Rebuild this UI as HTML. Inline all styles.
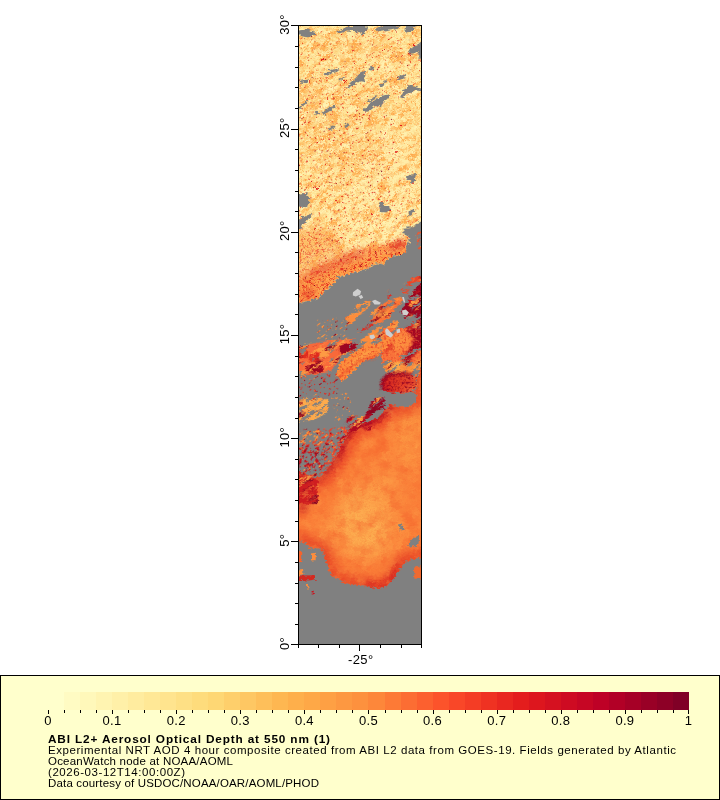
<!DOCTYPE html>
<html><head><meta charset="utf-8"><title>ABI L2+ Aerosol Optical Depth at 550 nm</title>
<style>html,body{margin:0;padding:0;background:#fff;}body{width:720px;height:800px;overflow:hidden;font-family:"Liberation Sans",sans-serif;}svg{display:block;position:absolute;left:0;top:0;}text{font-family:"Liberation Sans",sans-serif;fill:#000;}</style>
</head><body>
<svg width="720" height="800" viewBox="0 0 720 800">
<rect x="0" y="0" width="720" height="800" fill="#ffffff"/>
<defs><filter id="idt" filterUnits="userSpaceOnUse" x="0" y="0" width="720" height="800"><feOffset dx="0" dy="0"/></filter></defs>
<defs>
<clipPath id="mapclip"><rect x="299" y="26" width="122" height="618"/></clipPath>
<clipPath id="clipA"><polygon points="285.0,12.0 435.0,12.0 435.0,218.0 423.0,220.0 421.6,221.0 412.0,227.0 403.6,227.6 403.0,234.0 408.0,236.4 409.6,241.6 405.6,246.0 406.0,251.6 400.0,255.6 392.0,256.0 386.0,260.0 383.6,264.0 376.0,263.0 368.0,268.0 364.0,270.0 356.0,272.0 348.0,274.0 338.0,276.4 333.6,283.0 324.0,292.0 318.0,298.0 312.0,299.2 298.0,303.2 285.0,304.0"/></clipPath>
<clipPath id="clipO"><polygon points="280.0,468.0 298.0,470.0 308.0,476.0 314.0,478.4 321.0,476.0 328.0,468.0 334.0,460.0 338.0,454.0 342.0,444.4 346.0,438.0 350.0,428.4 358.0,426.0 368.0,422.0 378.0,418.0 384.0,412.0 390.0,404.4 397.0,406.4 408.0,406.4 416.0,402.4 416.0,394.4 409.0,392.4 416.0,390.0 418.0,374.0 423.0,366.0 440.0,362.0 440.0,554.0 423.0,556.4 416.0,558.4 404.0,562.0 399.2,570.0 392.4,580.0 384.4,588.0 374.0,588.0 364.0,585.2 348.0,584.0 340.0,580.0 332.0,576.0 328.0,568.0 324.4,556.4 322.0,548.4 310.0,548.0 306.0,543.2 298.0,541.0 280.0,540.0"/></clipPath>
<filter id="rag" filterUnits="userSpaceOnUse" x="-300" y="-300" width="1400" height="1500" color-interpolation-filters="sRGB"><feTurbulence type="fractalNoise" baseFrequency="0.09 0.3" numOctaves="2" seed="7" result="n"/><feDisplacementMap in="SourceGraphic" in2="n" scale="7" xChannelSelector="R" yChannelSelector="G"/></filter>
<filter id="rag2" filterUnits="userSpaceOnUse" x="-300" y="-300" width="1400" height="1500" color-interpolation-filters="sRGB"><feTurbulence type="fractalNoise" baseFrequency="0.2 0.45" numOctaves="2" seed="11" result="n"/><feDisplacementMap in="SourceGraphic" in2="n" scale="5" xChannelSelector="R" yChannelSelector="G"/></filter>
<filter id="rag3" filterUnits="userSpaceOnUse" x="-300" y="-300" width="1400" height="1500" color-interpolation-filters="sRGB"><feTurbulence type="fractalNoise" baseFrequency="0.3 0.5" numOctaves="2" seed="23" result="n"/><feDisplacementMap in="SourceGraphic" in2="n" scale="6" xChannelSelector="R" yChannelSelector="G"/></filter>
<filter id="spA1" filterUnits="userSpaceOnUse" x="-300" y="-300" width="1400" height="1500" color-interpolation-filters="sRGB"><feTurbulence type="fractalNoise" baseFrequency="0.07 0.20" numOctaves="3" seed="3" result="n"/><feColorMatrix in="n" type="matrix" values="0 0 0 0 0.995  0 0 0 0 0.69  0 0 0 0 0.32  4.4 0 0 0 -2.05" result="or"/><feColorMatrix in="n" type="matrix" values="0 0 0 0 1  0 0 0 0 0.95  0 0 0 0 0.70  0 3.6 0 0 -1.6" result="pl"/><feMerge result="m"><feMergeNode in="pl"/><feMergeNode in="or"/></feMerge><feComposite in="m" in2="SourceAlpha" operator="in" result="mc"/><feMerge><feMergeNode in="SourceGraphic"/><feMergeNode in="mc"/></feMerge></filter>
<filter id="spA" filterUnits="userSpaceOnUse" x="-300" y="-300" width="1400" height="1500" color-interpolation-filters="sRGB"><feTurbulence type="fractalNoise" baseFrequency="0.42" numOctaves="2" seed="17" result="f"/><feColorMatrix in="f" type="matrix" values="0 0 0 0 0.99  0 0 0 0 0.64  0 0 0 0 0.29  3.0 0 0 0 -1.58" result="fo"/><feColorMatrix in="f" type="matrix" values="0 0 0 0 1  0 0 0 0 0.95  0 0 0 0 0.70  0 3.0 0 0 -1.45" result="pl"/><feColorMatrix in="f" type="matrix" values="0 0 0 0 0.88  0 0 0 0 0.13  0 0 0 0 0.12  0 0 12 0 -8.95" result="rd"/><feMerge result="m"><feMergeNode in="fo"/><feMergeNode in="pl"/><feMergeNode in="rd"/></feMerge><feComposite in="m" in2="SourceAlpha" operator="in" result="mc"/><feMerge><feMergeNode in="SourceGraphic"/><feMergeNode in="mc"/></feMerge></filter>
<filter id="spO" filterUnits="userSpaceOnUse" x="-300" y="-300" width="1400" height="1500" color-interpolation-filters="sRGB"><feTurbulence type="fractalNoise" baseFrequency="0.09" numOctaves="3" seed="21" result="n"/><feTurbulence type="fractalNoise" baseFrequency="0.6" numOctaves="1" seed="4" result="f"/><feColorMatrix in="n" type="matrix" values="0 0 0 0 0.95  0 0 0 0 0.36  0 0 0 0 0.16  1.3 0 0 0 -0.56" result="or"/><feColorMatrix in="n" type="matrix" values="0 0 0 0 0.995  0 0 0 0 0.66  0 0 0 0 0.30  0 0 1.2 0 -0.56" result="pl"/><feColorMatrix in="f" type="matrix" values="0 0 0 0 0.95  0 0 0 0 0.40  0 0 0 0 0.18  0 0.9 0 0 -0.38" result="fo"/><feMerge result="m"><feMergeNode in="pl"/><feMergeNode in="or"/><feMergeNode in="fo"/></feMerge><feComposite in="m" in2="SourceAlpha" operator="in" result="mc"/><feMerge><feMergeNode in="SourceGraphic"/><feMergeNode in="mc"/></feMerge></filter>
<filter id="spZ" filterUnits="userSpaceOnUse" x="-300" y="-300" width="1400" height="1500" color-interpolation-filters="sRGB"><feTurbulence type="fractalNoise" baseFrequency="0.42" numOctaves="2" seed="33" result="f"/><feColorMatrix in="f" type="matrix" values="0 0 0 0 0.90  0 0 0 0 0.16  0 0 0 0 0.12  4.0 0 0 0 -2.0" result="rd"/><feColorMatrix in="f" type="matrix" values="0 0 0 0 0.99  0 0 0 0 0.74  0 0 0 0 0.38  0 3.0 0 0 -1.62" result="pl"/><feColorMatrix in="f" type="matrix" values="0 0 0 0 0.55  0 0 0 0 0.0  0 0 0 0 0.12  0 0 12 0 -8.6" result="dk"/><feMerge result="m"><feMergeNode in="pl"/><feMergeNode in="rd"/><feMergeNode in="dk"/></feMerge><feComposite in="m" in2="SourceGraphic" operator="in" result="mc"/><feMerge><feMergeNode in="SourceGraphic"/><feMergeNode in="mc"/></feMerge></filter>
<filter id="motA" filterUnits="userSpaceOnUse" x="-300" y="-300" width="1400" height="1500" color-interpolation-filters="sRGB"><feTurbulence type="fractalNoise" baseFrequency="0.05 0.24" numOctaves="3" seed="5" result="n"/><feColorMatrix in="n" type="matrix" values="0 0 0 0 0  0 0 0 0 0  0 0 0 0 0  16 0 0 0 -6.7" result="mask"/><feColorMatrix in="n" type="matrix" values="0 0 0 0 0.55  0 0 0 0 0.02  0 0 0 0 0.13  0 7 0 0 -4.25" result="dk"/><feColorMatrix in="n" type="matrix" values="0 0 0 0 0.99  0 0 0 0 0.62  0 0 0 0 0.26  0 0 6 0 -3.3" result="lt"/><feMerge result="cs"><feMergeNode in="SourceGraphic"/><feMergeNode in="lt"/><feMergeNode in="dk"/></feMerge><feComposite in="cs" in2="SourceAlpha" operator="in" result="c2"/><feComposite in="c2" in2="mask" operator="in"/></filter>
<filter id="motD" filterUnits="userSpaceOnUse" x="-300" y="-300" width="1400" height="1500" color-interpolation-filters="sRGB"><feTurbulence type="fractalNoise" baseFrequency="0.05 0.24" numOctaves="3" seed="12" result="n"/><feColorMatrix in="n" type="matrix" values="0 0 0 0 0  0 0 0 0 0  0 0 0 0 0  16 0 0 0 -4.8" result="mask"/><feColorMatrix in="n" type="matrix" values="0 0 0 0 0.55  0 0 0 0 0.02  0 0 0 0 0.13  0 7 0 0 -4.25" result="dk"/><feColorMatrix in="n" type="matrix" values="0 0 0 0 0.99  0 0 0 0 0.62  0 0 0 0 0.26  0 0 6 0 -3.3" result="lt"/><feMerge result="cs"><feMergeNode in="SourceGraphic"/><feMergeNode in="lt"/><feMergeNode in="dk"/></feMerge><feComposite in="cs" in2="SourceAlpha" operator="in" result="c2"/><feComposite in="c2" in2="mask" operator="in"/></filter>
<filter id="motB" filterUnits="userSpaceOnUse" x="-300" y="-300" width="1400" height="1500" color-interpolation-filters="sRGB"><feTurbulence type="fractalNoise" baseFrequency="0.05 0.24" numOctaves="3" seed="9" result="n"/><feColorMatrix in="n" type="matrix" values="0 0 0 0 0  0 0 0 0 0  0 0 0 0 0  16 0 0 0 -8.3" result="mask"/><feColorMatrix in="n" type="matrix" values="0 0 0 0 0.55  0 0 0 0 0.02  0 0 0 0 0.13  0 7 0 0 -4.25" result="dk"/><feColorMatrix in="n" type="matrix" values="0 0 0 0 0.99  0 0 0 0 0.62  0 0 0 0 0.26  0 0 6 0 -3.3" result="lt"/><feMerge result="cs"><feMergeNode in="SourceGraphic"/><feMergeNode in="lt"/><feMergeNode in="dk"/></feMerge><feComposite in="cs" in2="SourceAlpha" operator="in" result="c2"/><feComposite in="c2" in2="mask" operator="in"/></filter>
<filter id="motC" filterUnits="userSpaceOnUse" x="-300" y="-300" width="1400" height="1500" color-interpolation-filters="sRGB"><feTurbulence type="fractalNoise" baseFrequency="0.3 0.5" numOctaves="3" seed="14" result="n"/><feColorMatrix in="n" type="matrix" values="0 0 0 0 0  0 0 0 0 0  0 0 0 0 0  18 0 0 0 -11.2" result="mask"/><feColorMatrix in="n" type="matrix" values="0 0 0 0 0.55  0 0 0 0 0.02  0 0 0 0 0.13  0 7 0 0 -4.25" result="dk"/><feColorMatrix in="n" type="matrix" values="0 0 0 0 0.99  0 0 0 0 0.62  0 0 0 0 0.26  0 0 6 0 -3.3" result="lt"/><feMerge result="cs"><feMergeNode in="SourceGraphic"/><feMergeNode in="lt"/><feMergeNode in="dk"/></feMerge><feComposite in="cs" in2="SourceAlpha" operator="in" result="c2"/><feComposite in="c2" in2="mask" operator="in"/></filter>
<filter id="motS" filterUnits="userSpaceOnUse" x="-300" y="-300" width="1400" height="1500" color-interpolation-filters="sRGB"><feTurbulence type="fractalNoise" baseFrequency="0.45 0.55" numOctaves="3" seed="27" result="n"/><feColorMatrix in="n" type="matrix" values="0 0 0 0 0  0 0 0 0 0  0 0 0 0 0  20 0 0 0 -13.8" result="mask"/><feColorMatrix in="n" type="matrix" values="0 0 0 0 0.55  0 0 0 0 0.02  0 0 0 0 0.13  0 7 0 0 -4.25" result="dk"/><feColorMatrix in="n" type="matrix" values="0 0 0 0 0.99  0 0 0 0 0.62  0 0 0 0 0.26  0 0 6 0 -3.3" result="lt"/><feMerge result="cs"><feMergeNode in="SourceGraphic"/><feMergeNode in="lt"/><feMergeNode in="dk"/></feMerge><feComposite in="cs" in2="SourceAlpha" operator="in" result="c2"/><feComposite in="c2" in2="mask" operator="in"/></filter>
<filter id="motE" filterUnits="userSpaceOnUse" x="-300" y="-300" width="1400" height="1500" color-interpolation-filters="sRGB"><feTurbulence type="fractalNoise" baseFrequency="0.22 0.4" numOctaves="3" seed="19" result="n"/><feColorMatrix in="n" type="matrix" values="0 0 0 0 0  0 0 0 0 0  0 0 0 0 0  16 0 0 0 -8.1" result="mask"/><feColorMatrix in="n" type="matrix" values="0 0 0 0 0.55  0 0 0 0 0.02  0 0 0 0 0.13  0 7 0 0 -4.25" result="dk"/><feColorMatrix in="n" type="matrix" values="0 0 0 0 0.99  0 0 0 0 0.62  0 0 0 0 0.26  0 0 6 0 -3.3" result="lt"/><feMerge result="cs"><feMergeNode in="SourceGraphic"/><feMergeNode in="lt"/><feMergeNode in="dk"/></feMerge><feComposite in="cs" in2="SourceAlpha" operator="in" result="c2"/><feComposite in="c2" in2="mask" operator="in"/></filter>
<filter id="b3" filterUnits="userSpaceOnUse" x="-300" y="-300" width="1400" height="1500" color-interpolation-filters="sRGB"><feGaussianBlur stdDeviation="3"/></filter>
<filter id="b5" filterUnits="userSpaceOnUse" x="-300" y="-300" width="1400" height="1500" color-interpolation-filters="sRGB"><feGaussianBlur stdDeviation="5"/></filter>
<filter id="b8" filterUnits="userSpaceOnUse" x="-300" y="-300" width="1400" height="1500" color-interpolation-filters="sRGB"><feGaussianBlur stdDeviation="8"/></filter>
<filter id="b2" filterUnits="userSpaceOnUse" x="-300" y="-300" width="1400" height="1500" color-interpolation-filters="sRGB"><feGaussianBlur stdDeviation="2"/></filter>
<filter id="b1" filterUnits="userSpaceOnUse" x="-300" y="-300" width="1400" height="1500" color-interpolation-filters="sRGB"><feGaussianBlur stdDeviation="1.2"/></filter>
<linearGradient id="gA" gradientUnits="userSpaceOnUse" x1="0" y1="26" x2="0" y2="300"><stop offset="0" stop-color="#fee698"/><stop offset="0.2" stop-color="#fee394"/><stop offset="0.45" stop-color="#fee292"/><stop offset="0.6" stop-color="#fee89c"/><stop offset="0.78" stop-color="#feeca4"/><stop offset="1" stop-color="#fee89c"/></linearGradient>
<linearGradient id="gBlob" gradientUnits="userSpaceOnUse" x1="382" y1="0" x2="418" y2="0"><stop offset="0" stop-color="#c4141f"/><stop offset="0.45" stop-color="#e03a24"/><stop offset="0.8" stop-color="#f4683a"/><stop offset="1" stop-color="#fd8d3c"/></linearGradient>
<filter id="spR" filterUnits="userSpaceOnUse" x="-300" y="-300" width="1400" height="1500" color-interpolation-filters="sRGB"><feTurbulence type="fractalNoise" baseFrequency="0.45" numOctaves="2" seed="41" result="f"/><feColorMatrix in="f" type="matrix" values="0 0 0 0 0.86  0 0 0 0 0.16  0 0 0 0 0.13  2.0 0 0 0 -1.0" result="rd"/><feColorMatrix in="f" type="matrix" values="0 0 0 0 0.99  0 0 0 0 0.60  0 0 0 0 0.27  0 1.6 0 0 -0.8" result="pl"/><feMerge result="m"><feMergeNode in="pl"/><feMergeNode in="rd"/></feMerge><feComposite in="m" in2="SourceGraphic" operator="in" result="mc"/><feMerge><feMergeNode in="SourceGraphic"/><feMergeNode in="mc"/></feMerge></filter>
<filter id="spK" filterUnits="userSpaceOnUse" x="-300" y="-300" width="1400" height="1500" color-interpolation-filters="sRGB"><feTurbulence type="fractalNoise" baseFrequency="0.45" numOctaves="2" seed="43" result="f"/><feColorMatrix in="f" type="matrix" values="0 0 0 0 0.55  0 0 0 0 0.0  0 0 0 0 0.13  2.6 0 0 0 -1.2" result="dk"/><feColorMatrix in="f" type="matrix" values="0 0 0 0 0.93  0 0 0 0 0.25  0 0 0 0 0.15  0 2.0 0 0 -0.95" result="pl"/><feMerge result="m"><feMergeNode in="pl"/><feMergeNode in="dk"/></feMerge><feComposite in="m" in2="SourceGraphic" operator="in" result="mc"/><feMerge><feMergeNode in="SourceGraphic"/><feMergeNode in="mc"/></feMerge></filter>
</defs>
<g clip-path="url(#mapclip)">
<rect x="298" y="25" width="124" height="620" fill="#808080"/>
<g filter="url(#rag3)">
<g filter="url(#spA)"><g transform="rotate(-35 360 335)"><g filter="url(#spA1)"><g transform="rotate(35 360 335)"><g clip-path="url(#clipA)"><rect x="296" y="22" width="128" height="300" fill="url(#gA)"/><ellipse cx="312" cy="112" rx="22" ry="30" fill="#fcb45a" opacity="0.45" filter="url(#b8)"/><ellipse cx="306" cy="245" rx="22" ry="34" fill="#fcb75c" opacity="0.5" filter="url(#b8)"/><ellipse cx="385" cy="185" rx="34" ry="40" fill="#fff0ac" opacity="0.45" filter="url(#b8)"/><ellipse cx="350" cy="150" rx="45" ry="30" fill="#fcba60" opacity="0.30" filter="url(#b8)"/><ellipse cx="400" cy="150" rx="22" ry="30" fill="#ffedaa" opacity="0.55" filter="url(#b8)"/><ellipse cx="350" cy="45" rx="50" ry="14" fill="#fdc670" opacity="0.35" filter="url(#b5)"/><ellipse cx="375" cy="215" rx="40" ry="22" fill="#ffeeaa" opacity="0.5" filter="url(#b8)"/></g></g></g></g></g>
<g filter="url(#spZ)"><g clip-path="url(#clipA)"><polygon points="285.0,236.0 332.0,231.0 342.0,248.0 300.0,268.0 285.0,272.0" fill="#fdb055" opacity="0.55" filter="url(#b5)"/><polygon points="285.0,287.0 330.0,269.0 355.0,259.0 395.0,248.0 412.0,238.0 412.0,300.0 285.0,322.0" fill="#fd9a44" opacity="0.92" filter="url(#b3)"/><polyline points="285.0,286.0 301.0,279.0 330.0,266.0 352.0,257.0 366.0,253.0" fill="none" stroke="#f26a32" stroke-width="12" opacity="0.62" filter="url(#b3)"/><polyline points="366.0,253.0 380.0,250.0 392.0,247.0" fill="none" stroke="#fc8a3c" stroke-width="9" opacity="0.7" filter="url(#b2)"/><polyline points="312.0,274.0 345.0,260.0 360.0,254.0" fill="none" stroke="#e23c28" stroke-width="5" opacity="0.4" filter="url(#b2)"/><polyline points="391.0,249.0 398.0,245.0 403.0,241.0" fill="none" stroke="#e23c28" stroke-width="8" opacity="0.85" filter="url(#b2)"/><polygon points="299.0,292.0 312.0,286.0 318.0,294.0 304.0,303.0" fill="#e8452a" opacity="0.5" filter="url(#b2)"/></g></g>
</g>
<g clip-path="url(#clipA)"><g transform="rotate(-35 360 335)"><g filter="url(#motS)"><g transform="rotate(35 360 335)"><polygon points="290.0,95.0 345.0,85.0 390.0,110.0 400.0,160.0 380.0,200.0 330.0,215.0 290.0,200.0" fill="#e2301f" /><polygon points="290.0,30.0 430.0,30.0 430.0,95.0 290.0,95.0" fill="#ee5a2c" /><polygon points="380.0,200.0 430.0,150.0 430.0,230.0 330.0,270.0 290.0,260.0 290.0,200.0" fill="#e8402a" /></g></g></g></g>
<g transform="rotate(-35 360 335)"><g filter="url(#motE)"><g transform="rotate(35 360 335)"><polygon points="415.2,232.4 423.2,229.0 423.2,250.0 418.0,249.2 416.0,242.0" fill="#ea5530" /></g></g></g>
<g filter="url(#rag2)" fill="#808080">
<polygon points="299.0,30.4 307.0,29.6 316.0,32.0 315.4,34.8 308.0,37.2 301.6,36.4 299.0,34.0"/>
<polygon points="336.0,32.4 346.0,27.2 356.0,25.6 368.0,25.6 367.4,31.0 362.4,34.4 357.0,31.2 348.0,30.4 339.2,33.6"/>
<polygon points="376.0,29.2 384.0,25.6 400.4,25.6 396.0,29.2 386.0,31.2 378.0,32.0"/>
<polygon points="404.0,29.2 408.0,25.6 416.4,25.6 413.2,30.0 406.0,33.2"/>
<polygon points="408.0,50.4 416.0,45.2 422.4,41.6 422.4,58.4 418.0,57.2 419.0,51.2 413.0,53.4 408.8,53.4"/>
<polygon points="324.0,73.2 331.0,70.0 339.2,68.0 338.0,71.2 331.0,74.2 326.0,75.4"/>
<polygon points="346.0,88.0 354.0,80.0 360.0,73.0 365.2,70.8 364.2,78.0 365.2,82.2 360.0,81.2 354.0,85.2 348.0,89.2"/>
<polygon points="369.0,68.0 373.0,66.0 374.2,69.0 370.4,70.6"/>
<polygon points="397.0,78.0 403.0,74.0 406.2,75.0 403.0,79.2 398.0,80.2"/>
<polygon points="400.0,97.2 404.0,90.0 408.0,85.0 413.2,86.0 422.4,89.0 422.4,91.2 414.0,90.2 410.0,93.2 406.0,94.2 403.0,98.2"/>
<polygon points="362.0,110.4 368.0,105.2 376.0,99.2 383.0,95.2 390.4,94.4 388.0,99.2 382.0,103.2 381.0,106.2 374.0,106.2 368.0,111.2 363.6,112.0"/>
<polygon points="367.6,100.8 374.0,97.0 377.2,95.8 376.2,98.4 369.2,102.4"/>
<polygon points="299.6,81.0 308.0,79.4 308.0,81.6 300.6,83.2"/>
<polygon points="322.0,113.2 328.0,108.0 335.0,104.0 336.2,106.0 330.0,111.2 323.6,115.2"/>
<polygon points="329.0,128.0 333.0,124.4 335.8,125.6 333.6,129.2 330.0,130.2"/>
<polygon points="299.0,107.2 307.0,100.0 308.0,101.6 300.0,109.2"/>
<polygon points="344.0,125.0 348.0,123.0 349.2,125.0 345.0,127.2"/>
<polygon points="406.4,178.0 411.0,174.4 416.0,174.0 415.0,180.0 407.6,181.0"/>
<polygon points="314.0,114.0 318.0,111.0 319.2,112.4 315.2,115.6"/>
<polygon points="379.0,86.0 386.0,80.0 387.4,81.2 380.4,87.4"/>
<polygon points="338.0,80.0 344.0,76.0 344.8,77.4 339.0,81.4"/>
<polygon points="298.0,194.0 306.0,192.8 309.2,197.0 309.2,204.0 305.0,207.2 298.0,206.2"/>
<polygon points="298.0,220.0 304.0,217.0 310.0,214.0 311.2,217.2 307.0,220.2 303.2,223.2 302.0,228.2 298.0,229.8"/>
<polygon points="379.0,204.0 383.0,202.8 385.0,206.0 389.0,206.0 390.2,210.0 386.0,212.2 381.0,212.2 379.4,208.0"/>
<polygon points="408.0,213.2 412.0,209.0 414.2,210.0 411.6,215.2 408.4,216.2"/>
<polygon points="410.4,180.0 414.4,180.0 413.6,182.8 410.0,182.4"/>
</g>
<g filter="url(#rag3)"><g transform="rotate(-35 360 335)"><g filter="url(#spO)"><g transform="rotate(35 360 335)"><g clip-path="url(#clipO)"><rect x="270" y="360" width="180" height="240" fill="#fb7f38"/><ellipse cx="366" cy="522" rx="30" ry="36" fill="#fdb252" opacity="0.95" filter="url(#b8)"/><ellipse cx="384" cy="490" rx="20" ry="26" fill="#fd9d46" opacity="0.7" filter="url(#b8)"/><ellipse cx="410" cy="435" rx="16" ry="36" fill="#fd9c44" opacity="0.85" filter="url(#b8)"/><ellipse cx="400" cy="520" rx="14" ry="24" fill="#fc8a3c" opacity="0.5" filter="url(#b5)"/><ellipse cx="330" cy="535" rx="16" ry="18" fill="#fd9a44" opacity="0.6" filter="url(#b5)"/><polygon points="280.0,468.0 298.0,470.0 308.0,476.0 314.0,478.4 321.0,476.0 328.0,468.0 334.0,460.0 338.0,454.0 342.0,444.4 346.0,438.0 350.0,428.4 358.0,426.0 368.0,422.0 378.0,418.0 384.0,412.0 390.0,404.4 397.0,406.4 408.0,406.4 416.0,402.4 416.0,394.4 409.0,392.4 416.0,390.0 418.0,374.0 423.0,366.0 440.0,362.0 440.0,554.0 423.0,556.4 416.0,558.4 404.0,562.0 399.2,570.0 392.4,580.0 384.4,588.0 374.0,588.0 364.0,585.2 348.0,584.0 340.0,580.0 332.0,576.0 328.0,568.0 324.4,556.4 322.0,548.4 310.0,548.0 306.0,543.2 298.0,541.0 280.0,540.0" fill="none" stroke="#e0301f" stroke-width="16" stroke-linejoin="round" opacity="0.75" filter="url(#b5)"/><polyline points="280.0,468.0 298.0,470.0 308.0,476.0 314.0,478.4 321.0,476.0 328.0,468.0 334.0,460.0 338.0,454.0 342.0,444.4 346.0,438.0 350.0,428.4 358.0,426.0 368.0,422.0 378.0,418.0 384.0,412.0 390.0,404.4" fill="none" stroke="#ee4e2a" stroke-width="24" opacity="0.85" filter="url(#b3)"/><polyline points="280.0,468.0 298.0,470.0 308.0,476.0 314.0,478.4 321.0,476.0 328.0,468.0 334.0,460.0 338.0,454.0 342.0,444.4 346.0,438.0 350.0,428.4 358.0,426.0 368.0,422.0 378.0,418.0 384.0,412.0 390.0,404.4" fill="none" stroke="#b5091f" stroke-width="9" opacity="0.9" filter="url(#b2)"/><polyline points="404.0,562.0 399.2,570.0 392.4,580.0 384.4,588.0 374.0,588.0 364.0,585.2" fill="none" stroke="#d7261f" stroke-width="12" opacity="0.8" filter="url(#b2)"/><ellipse cx="302" cy="492" rx="9" ry="22" fill="#c4141f" opacity="0.7" filter="url(#b3)"/></g></g></g></g></g>
<g filter="url(#rag2)" fill="#808080">
<polygon points="396.0,392.4 408.0,391.6 416.0,393.6 416.0,402.0 408.0,406.0 397.6,406.0 394.0,400.0" fill="#808080" />
<polygon points="399.0,524.4 403.0,523.6 403.6,530.0 399.6,530.4" fill="#808080" />
<polygon points="408.0,545.0 416.0,536.0 419.2,536.0 418.4,545.0 410.4,547.6" fill="#808080" />
</g>
<g filter="url(#rag2)"><g transform="rotate(-35 360 335)"><g filter="url(#motA)"><g transform="rotate(35 360 335)"><polygon points="347.0,325.0 344.5,320.0 352.0,311.2 357.0,305.0 364.5,301.2 369.5,299.8 371.0,303.8 364.8,311.2 357.0,317.8 352.0,324.0" fill="#fd8d3c" /><polygon points="369.5,320.2 370.8,313.8 377.0,307.5 384.5,302.2 392.0,299.8 399.5,296.5 402.2,298.8 400.2,306.5 394.5,311.5 390.8,317.8 384.5,320.2 379.5,324.0 373.2,324.0" fill="#fb7536" /><polygon points="375.8,312.8 382.0,306.2 388.5,304.8 386.0,311.5 379.5,316.5" fill="#e63e28" /><polygon points="400.1,286.5 407.0,280.0 419.5,276.0 423.2,277.0 423.2,282.5 412.0,291.5 404.5,294.0 400.8,291.5" fill="#e8472a" /><polygon points="357.0,350.6 358.2,343.8 364.5,337.5 373.2,330.0 384.5,323.8 397.0,319.8 399.8,323.8 394.5,328.8 397.2,335.0 399.8,340.2 394.5,350.6" fill="#fd8d3c" /><polygon points="355.8,328.8 364.5,325.0 373.2,322.2 373.5,326.2 364.5,330.2 357.0,332.8" fill="#e02a1f" /><polygon points="330.8,340.0 342.0,340.0 357.0,345.0 357.0,350.6 330.8,350.6" fill="#fd8d3c" /><polygon points="339.5,350.6 342.0,343.8 352.0,343.8 354.8,350.6" fill="#9c0622" /><polygon points="402.0,340.2 407.0,328.8 413.2,320.0 414.8,325.0 409.8,335.2 407.0,345.2" fill="#e02a1f" /><polygon points="387.0,291.2 390.8,288.8 391.4,298.8 387.6,300.0" fill="#e02a1f" /></g></g></g></g>
<g filter="url(#rag2)"><g transform="rotate(-35 360 335)"><g filter="url(#motD)"><g transform="rotate(35 360 335)"><polygon points="400.5,312.5 404.5,305.0 410.8,295.0 418.2,285.0 424.5,281.2 424.5,312.5 418.2,317.5 412.0,316.5 406.5,319.0" fill="#9c0622" /><polygon points="407.0,350.6 410.8,335.0 416.0,322.5 424.5,313.8 424.5,350.6" fill="#9c0622" /><polygon points="407.0,302.5 414.5,292.5 419.5,288.8 419.5,295.0 412.0,306.2" fill="#c4141f" /></g></g></g></g>
<g filter="url(#rag2)"><g transform="rotate(-35 360 335)"><g filter="url(#motD)"><g transform="rotate(35 360 335)"><polygon points="284.0,346.8 300.0,345.6 318.0,342.4 340.0,339.2 357.0,338.4 356.0,348.0 348.0,353.2 340.8,356.0 336.8,364.4 328.4,372.4 312.0,374.8 284.0,376.0" fill="#f8693a" /><polygon points="284.0,348.0 308.0,346.0 308.0,358.0 284.0,360.0" fill="#e02a1f" /><polygon points="305.0,365.6 322.8,364.4 322.4,371.6 306.0,372.8" fill="#9c0622" /><polygon points="339.2,344.4 356.0,342.4 355.2,351.6 340.4,354.4" fill="#9c0622" /><polygon points="318.0,348.0 332.4,346.0 328.4,356.4 318.0,358.4" fill="#fd9a44" /><polygon points="310.0,354.0 320.0,352.0 318.0,362.0 308.0,362.4" fill="#e02a1f" /></g></g></g></g>
<g filter="url(#spR)"><g filter="url(#rag2)"><polygon points="383.2,328.0 428.0,328.0 428.0,359.2 416.0,364.0 408.0,360.8 396.0,362.4 388.0,360.0 382.0,362.4 380.4,354.0 384.0,344.0" fill="#f8713a" /><polygon points="392.0,336.0 408.0,332.0 412.0,344.0 400.0,352.0 390.0,350.0" fill="#fd9440" opacity="0.8" filter="url(#b2)"/><polygon points="406.0,328.0 428.0,328.0 428.0,339.2 420.8,348.0 412.0,358.0 406.0,362.4 402.0,358.4 410.0,348.0 414.0,340.0" fill="#a30722" filter="url(#b1)"/><polygon points="382.0,346.0 392.0,342.0 394.0,348.0 384.0,354.0" fill="#e23a26" opacity="0.8" filter="url(#b1)"/></g></g>
<g filter="url(#rag2)" fill="#808080"><polygon points="400.0,357.2 416.0,348.8 428.0,346.0 428.0,348.0 416.8,351.2 401.2,359.6" fill="#808080" /><polygon points="388.0,336.0 396.0,328.0 398.4,328.0 390.4,338.0" fill="#808080" /></g>
<g filter="url(#rag2)"><g transform="rotate(-35 360 335)"><g filter="url(#motA)"><g transform="rotate(35 360 335)"><polygon points="382.0,362.4 400.0,360.8 428.0,359.2 428.0,374.0 400.0,375.2 386.0,373.6" fill="#fd8d3c" /><polygon points="388.0,363.6 400.0,362.4 400.0,372.0 392.0,374.0" fill="#fdab4c" /></g></g></g></g>
<g filter="url(#spR)"><g filter="url(#rag2)"><polygon points="336.0,374.8 340.0,362.4 354.0,352.0 368.0,345.6 382.8,341.6 378.8,356.8 364.4,360.8 354.4,370.8 342.4,381.2" fill="#fd8d3c" /><polygon points="348.0,364.4 364.0,352.4 372.4,350.0 368.4,358.4 354.4,368.4" fill="#fd9c44" /><polygon points="382.0,342.0 388.0,334.0 392.0,334.0 388.0,346.0 382.0,352.0" fill="#fd8d3c" /><polyline points="338.0,378.0 348.0,370.0 358.0,362.0 368.0,358.0 378.0,356.0" fill="none" stroke="#ee4f2a" stroke-width="3" opacity="0.7" filter="url(#b1)"/></g></g>
<g filter="url(#spK)"><g filter="url(#rag2)"><polygon points="382.0,380.8 388.0,374.8 400.0,373.2 416.4,375.6 416.8,388.0 408.4,392.4 392.0,392.8 382.8,390.4" fill="url(#gBlob)" /><polyline points="382.8,390.0 382.4,381.2 388.4,375.2 400.0,373.6 412.0,375.2" fill="none" stroke="#9c0622" stroke-width="4" opacity="0.85" filter="url(#b1)"/><polygon points="400.0,379.2 416.0,378.0 416.0,385.2 404.0,387.2" fill="#c9181f" opacity="0.6" filter="url(#b2)"/></g></g>
<g filter="url(#rag2)"><g transform="rotate(-35 360 335)"><g filter="url(#motA)"><g transform="rotate(35 360 335)"><polygon points="372.0,398.4 384.8,396.8 384.8,408.8 376.0,410.4 369.0,420.4 364.0,420.4" fill="#9c0622" /><polygon points="347.2,416.8 372.0,414.4 372.0,430.4 348.0,432.8 342.0,444.4 338.0,444.4" fill="#b00a22" /></g></g></g></g>
<g filter="url(#rag2)"><g transform="rotate(-35 360 335)"><g filter="url(#motA)"><g transform="rotate(35 360 335)"><polygon points="284.0,400.0 312.0,398.0 328.4,399.2 327.6,412.4 314.0,420.4 284.0,422.4" fill="#fdab4c" /></g></g></g></g>
<g transform="rotate(-35 360 335)"><g filter="url(#motC)"><g transform="rotate(35 360 335)"><polygon points="284.0,374.0 338.0,374.0 338.0,400.0 284.0,400.0" fill="#e02a1f" /><polygon points="328.0,396.0 348.0,390.0 354.4,416.0 336.0,424.0" fill="#fd8d3c" /><polygon points="317.0,320.0 339.5,317.5 348.2,325.0 344.5,337.5 317.0,340.0" fill="#fd8d3c" /></g></g></g>
<g transform="rotate(-35 360 335)"><g filter="url(#motE)"><g transform="rotate(35 360 335)"><polygon points="284.0,430.0 328.0,428.0 348.0,426.0 346.0,440.0 338.0,454.0 328.0,469.0 314.0,479.0 284.0,471.0" fill="#e8402a" /><polygon points="284.0,452.0 312.0,444.0 328.0,452.0 320.0,472.0 284.0,472.0" fill="#c4141f" /><polygon points="300.0,432.0 320.0,430.0 318.0,440.0 300.0,444.0" fill="#fd8d3c" /></g></g></g>
<g filter="url(#rag2)"><g transform="rotate(-35 360 335)"><g filter="url(#motD)"><g transform="rotate(35 360 335)"><polygon points="284.0,470.4 308.0,476.4 318.0,480.0 318.0,504.0 284.0,504.0" fill="#cf1d20" /></g></g></g></g>
<g filter="url(#rag2)">
<polygon points="298.0,575.6 315.0,575.2 315.0,579.6 308.0,580.4 298.0,580.0" fill="#d42a20" />
<polygon points="298.0,570.4 303.0,570.0 303.6,574.4 298.0,575.2" fill="#fd8d3c" />
<polygon points="312.0,553.6 316.0,552.8 315.6,560.0 312.0,560.4" fill="#fd8d3c" />
<polygon points="298.0,551.0 301.2,551.0 301.2,562.0 298.0,562.0" fill="#f4642e" />
<polygon points="414.0,568.0 422.4,566.0 422.4,578.4 414.4,578.8" fill="#f06a30" />
<polygon points="311.6,591.0 314.0,590.4 313.6,593.6 311.6,593.6" fill="#c8141f" />
<polygon points="307.0,585.0 309.0,585.0 308.8,588.4 307.2,588.4" fill="#fd8d3c" />
</g>
<g fill="#cfcfcf">
<polygon points="353.0,292.2 357.6,288.8 361.1,291.2 360.2,294.5 355.8,296.6 352.8,295.4"/>
<polygon points="358.5,296.0 361.8,295.0 363.2,297.8 360.5,299.1"/>
<polygon points="372.0,301.0 375.1,299.8 380.8,302.8 379.5,304.4 374.5,304.5"/>
<polygon points="402.0,297.2 403.9,296.9 405.2,302.2 403.9,302.8"/>
<polygon points="402.0,310.6 405.8,309.4 408.9,312.5 407.0,315.6 402.6,314.8"/>
<polygon points="385.1,330.0 387.0,327.9 393.2,335.0 390.8,337.8 385.8,334.4"/>
<polygon points="396.4,329.4 399.9,328.8 400.2,332.5 396.8,333.2"/>
<polygon points="369.5,335.2 373.9,334.4 375.2,337.5 372.0,339.6 369.8,338.1"/>
</g>
</g>
<g stroke="#000" stroke-width="1" fill="none" shape-rendering="crispEdges">
<rect x="298.5" y="25.5" width="123.0" height="619.0"/>
<line x1="291" y1="644.5" x2="298.5" y2="644.5"/>
<line x1="295" y1="624.5" x2="298.5" y2="624.5"/>
<line x1="295" y1="603.5" x2="298.5" y2="603.5"/>
<line x1="295" y1="583.5" x2="298.5" y2="583.5"/>
<line x1="295" y1="562.5" x2="298.5" y2="562.5"/>
<line x1="291" y1="541.5" x2="298.5" y2="541.5"/>
<line x1="295" y1="521.5" x2="298.5" y2="521.5"/>
<line x1="295" y1="500.5" x2="298.5" y2="500.5"/>
<line x1="295" y1="479.5" x2="298.5" y2="479.5"/>
<line x1="295" y1="459.5" x2="298.5" y2="459.5"/>
<line x1="291" y1="438.5" x2="298.5" y2="438.5"/>
<line x1="295" y1="418.5" x2="298.5" y2="418.5"/>
<line x1="295" y1="397.5" x2="298.5" y2="397.5"/>
<line x1="295" y1="376.5" x2="298.5" y2="376.5"/>
<line x1="295" y1="356.5" x2="298.5" y2="356.5"/>
<line x1="291" y1="335.5" x2="298.5" y2="335.5"/>
<line x1="295" y1="314.5" x2="298.5" y2="314.5"/>
<line x1="295" y1="294.5" x2="298.5" y2="294.5"/>
<line x1="295" y1="273.5" x2="298.5" y2="273.5"/>
<line x1="295" y1="252.5" x2="298.5" y2="252.5"/>
<line x1="291" y1="232.5" x2="298.5" y2="232.5"/>
<line x1="295" y1="211.5" x2="298.5" y2="211.5"/>
<line x1="295" y1="191.5" x2="298.5" y2="191.5"/>
<line x1="295" y1="170.5" x2="298.5" y2="170.5"/>
<line x1="295" y1="149.5" x2="298.5" y2="149.5"/>
<line x1="291" y1="129.5" x2="298.5" y2="129.5"/>
<line x1="295" y1="108.5" x2="298.5" y2="108.5"/>
<line x1="295" y1="87.5" x2="298.5" y2="87.5"/>
<line x1="295" y1="67.5" x2="298.5" y2="67.5"/>
<line x1="295" y1="46.5" x2="298.5" y2="46.5"/>
<line x1="291" y1="25.5" x2="298.5" y2="25.5"/>
<line x1="298.5" y1="644.5" x2="298.5" y2="648"/>
<line x1="318.5" y1="644.5" x2="318.5" y2="648"/>
<line x1="339.5" y1="644.5" x2="339.5" y2="648"/>
<line x1="359.5" y1="644.5" x2="359.5" y2="651"/>
<line x1="380.5" y1="644.5" x2="380.5" y2="648"/>
<line x1="401.5" y1="644.5" x2="401.5" y2="648"/>
<line x1="421.5" y1="644.5" x2="421.5" y2="648"/>
</g>
<g filter="url(#idt)">
<text transform="translate(289.3,643.5) rotate(-90)" text-anchor="middle" font-size="13" letter-spacing="0.3">0°</text>
<text transform="translate(289.3,540.3) rotate(-90)" text-anchor="middle" font-size="13" letter-spacing="0.3">5°</text>
<text transform="translate(289.3,437.2) rotate(-90)" text-anchor="middle" font-size="13" letter-spacing="0.3">10°</text>
<text transform="translate(289.3,334.0) rotate(-90)" text-anchor="middle" font-size="13" letter-spacing="0.3">15°</text>
<text transform="translate(289.3,230.8) rotate(-90)" text-anchor="middle" font-size="13" letter-spacing="0.3">20°</text>
<text transform="translate(289.3,127.7) rotate(-90)" text-anchor="middle" font-size="13" letter-spacing="0.3">25°</text>
<text transform="translate(289.3,24.5) rotate(-90)" text-anchor="middle" font-size="13" letter-spacing="0.3">30°</text>
<text x="360.8" y="664" text-anchor="middle" font-size="13" letter-spacing="0.4">-25°</text>
<rect x="0.5" y="675.5" width="719" height="124" fill="#ffffcc" stroke="#000" stroke-width="1" shape-rendering="crispEdges"/>
<g shape-rendering="crispEdges">
<rect x="48" y="692" width="16" height="18" fill="#ffffcc"/>
<rect x="64" y="692" width="16" height="18" fill="#fffbc3"/>
<rect x="80" y="692" width="16" height="18" fill="#fff8ba"/>
<rect x="96" y="692" width="16" height="18" fill="#fff4b1"/>
<rect x="112" y="692" width="16" height="18" fill="#fff0a8"/>
<rect x="128" y="692" width="16" height="18" fill="#ffec9f"/>
<rect x="144" y="692" width="16" height="18" fill="#ffe896"/>
<rect x="160" y="692" width="16" height="18" fill="#ffe48e"/>
<rect x="176" y="692" width="16" height="18" fill="#fee085"/>
<rect x="192" y="692" width="16" height="18" fill="#fedc7c"/>
<rect x="208" y="692" width="16" height="18" fill="#fed774"/>
<rect x="224" y="692" width="16" height="18" fill="#fecf6b"/>
<rect x="240" y="692" width="16" height="18" fill="#fec763"/>
<rect x="256" y="692" width="16" height="18" fill="#febf5a"/>
<rect x="272" y="692" width="16" height="18" fill="#feb751"/>
<rect x="288" y="692" width="16" height="18" fill="#feaf4b"/>
<rect x="304" y="692" width="16" height="18" fill="#fea847"/>
<rect x="320" y="692" width="16" height="18" fill="#fea044"/>
<rect x="336" y="692" width="16" height="18" fill="#fd9841"/>
<rect x="352" y="692" width="16" height="18" fill="#fd913e"/>
<rect x="368" y="692" width="17" height="18" fill="#fd873a"/>
<rect x="385" y="692" width="16" height="18" fill="#fd7a36"/>
<rect x="401" y="692" width="16" height="18" fill="#fc6d33"/>
<rect x="417" y="692" width="16" height="18" fill="#fc602f"/>
<rect x="433" y="692" width="16" height="18" fill="#fc532b"/>
<rect x="449" y="692" width="16" height="18" fill="#f94728"/>
<rect x="465" y="692" width="16" height="18" fill="#f43d25"/>
<rect x="481" y="692" width="16" height="18" fill="#ef3222"/>
<rect x="497" y="692" width="16" height="18" fill="#e92720"/>
<rect x="513" y="692" width="16" height="18" fill="#e41d1d"/>
<rect x="529" y="692" width="16" height="18" fill="#dd161e"/>
<rect x="545" y="692" width="16" height="18" fill="#d51120"/>
<rect x="561" y="692" width="16" height="18" fill="#ce0b22"/>
<rect x="577" y="692" width="16" height="18" fill="#c60624"/>
<rect x="593" y="692" width="16" height="18" fill="#be0126"/>
<rect x="609" y="692" width="16" height="18" fill="#b20026"/>
<rect x="625" y="692" width="16" height="18" fill="#a60026"/>
<rect x="641" y="692" width="16" height="18" fill="#990026"/>
<rect x="657" y="692" width="16" height="18" fill="#8d0026"/>
<rect x="673" y="692" width="16" height="18" fill="#800026"/>
</g>
<g stroke="#000" stroke-width="1" shape-rendering="crispEdges">
<line x1="48.5" y1="710" x2="48.5" y2="714"/>
<line x1="64.5" y1="710" x2="64.5" y2="713"/>
<line x1="80.5" y1="710" x2="80.5" y2="713"/>
<line x1="96.5" y1="710" x2="96.5" y2="713"/>
<line x1="112.5" y1="710" x2="112.5" y2="714"/>
<line x1="128.5" y1="710" x2="128.5" y2="713"/>
<line x1="144.5" y1="710" x2="144.5" y2="713"/>
<line x1="160.5" y1="710" x2="160.5" y2="713"/>
<line x1="176.5" y1="710" x2="176.5" y2="714"/>
<line x1="192.5" y1="710" x2="192.5" y2="713"/>
<line x1="208.5" y1="710" x2="208.5" y2="713"/>
<line x1="224.5" y1="710" x2="224.5" y2="713"/>
<line x1="240.5" y1="710" x2="240.5" y2="714"/>
<line x1="256.5" y1="710" x2="256.5" y2="713"/>
<line x1="272.5" y1="710" x2="272.5" y2="713"/>
<line x1="288.5" y1="710" x2="288.5" y2="713"/>
<line x1="304.5" y1="710" x2="304.5" y2="714"/>
<line x1="320.5" y1="710" x2="320.5" y2="713"/>
<line x1="336.5" y1="710" x2="336.5" y2="713"/>
<line x1="352.5" y1="710" x2="352.5" y2="713"/>
<line x1="368.5" y1="710" x2="368.5" y2="714"/>
<line x1="385.5" y1="710" x2="385.5" y2="713"/>
<line x1="401.5" y1="710" x2="401.5" y2="713"/>
<line x1="417.5" y1="710" x2="417.5" y2="713"/>
<line x1="433.5" y1="710" x2="433.5" y2="714"/>
<line x1="449.5" y1="710" x2="449.5" y2="713"/>
<line x1="465.5" y1="710" x2="465.5" y2="713"/>
<line x1="481.5" y1="710" x2="481.5" y2="713"/>
<line x1="497.5" y1="710" x2="497.5" y2="714"/>
<line x1="513.5" y1="710" x2="513.5" y2="713"/>
<line x1="529.5" y1="710" x2="529.5" y2="713"/>
<line x1="545.5" y1="710" x2="545.5" y2="713"/>
<line x1="561.5" y1="710" x2="561.5" y2="714"/>
<line x1="577.5" y1="710" x2="577.5" y2="713"/>
<line x1="593.5" y1="710" x2="593.5" y2="713"/>
<line x1="609.5" y1="710" x2="609.5" y2="713"/>
<line x1="625.5" y1="710" x2="625.5" y2="714"/>
<line x1="641.5" y1="710" x2="641.5" y2="713"/>
<line x1="657.5" y1="710" x2="657.5" y2="713"/>
<line x1="673.5" y1="710" x2="673.5" y2="713"/>
<line x1="688.5" y1="710" x2="688.5" y2="714"/>
</g>
<text x="48.0" y="725" text-anchor="middle" font-size="13" letter-spacing="0.3">0</text>
<text x="112.1" y="725" text-anchor="middle" font-size="13" letter-spacing="0.3">0.1</text>
<text x="176.2" y="725" text-anchor="middle" font-size="13" letter-spacing="0.3">0.2</text>
<text x="240.3" y="725" text-anchor="middle" font-size="13" letter-spacing="0.3">0.3</text>
<text x="304.4" y="725" text-anchor="middle" font-size="13" letter-spacing="0.3">0.4</text>
<text x="368.5" y="725" text-anchor="middle" font-size="13" letter-spacing="0.3">0.5</text>
<text x="432.6" y="725" text-anchor="middle" font-size="13" letter-spacing="0.3">0.6</text>
<text x="496.7" y="725" text-anchor="middle" font-size="13" letter-spacing="0.3">0.7</text>
<text x="560.8" y="725" text-anchor="middle" font-size="13" letter-spacing="0.3">0.8</text>
<text x="624.9" y="725" text-anchor="middle" font-size="13" letter-spacing="0.3">0.9</text>
<text x="688.5" y="725" text-anchor="middle" font-size="13" letter-spacing="0.3">1</text>
<text x="48" y="743" font-size="11.8" font-weight="bold" textLength="282" lengthAdjust="spacing">ABI L2+ Aerosol Optical Depth at 550 nm (1)</text>
<text x="48" y="754" font-size="11.5" textLength="628" lengthAdjust="spacing">Experimental NRT AOD 4 hour composite created from ABI L2 data from GOES-19. Fields generated by Atlantic</text>
<text x="48" y="765" font-size="11.5" textLength="185" lengthAdjust="spacing">OceanWatch node at NOAA/AOML</text>
<text x="48" y="776" font-size="11.5" textLength="137" lengthAdjust="spacing">(2026-03-12T14:00:00Z)</text>
<text x="48" y="787" font-size="11.5" textLength="271" lengthAdjust="spacing">Data courtesy of USDOC/NOAA/OAR/AOML/PHOD</text>
</g>
</svg></body></html>
